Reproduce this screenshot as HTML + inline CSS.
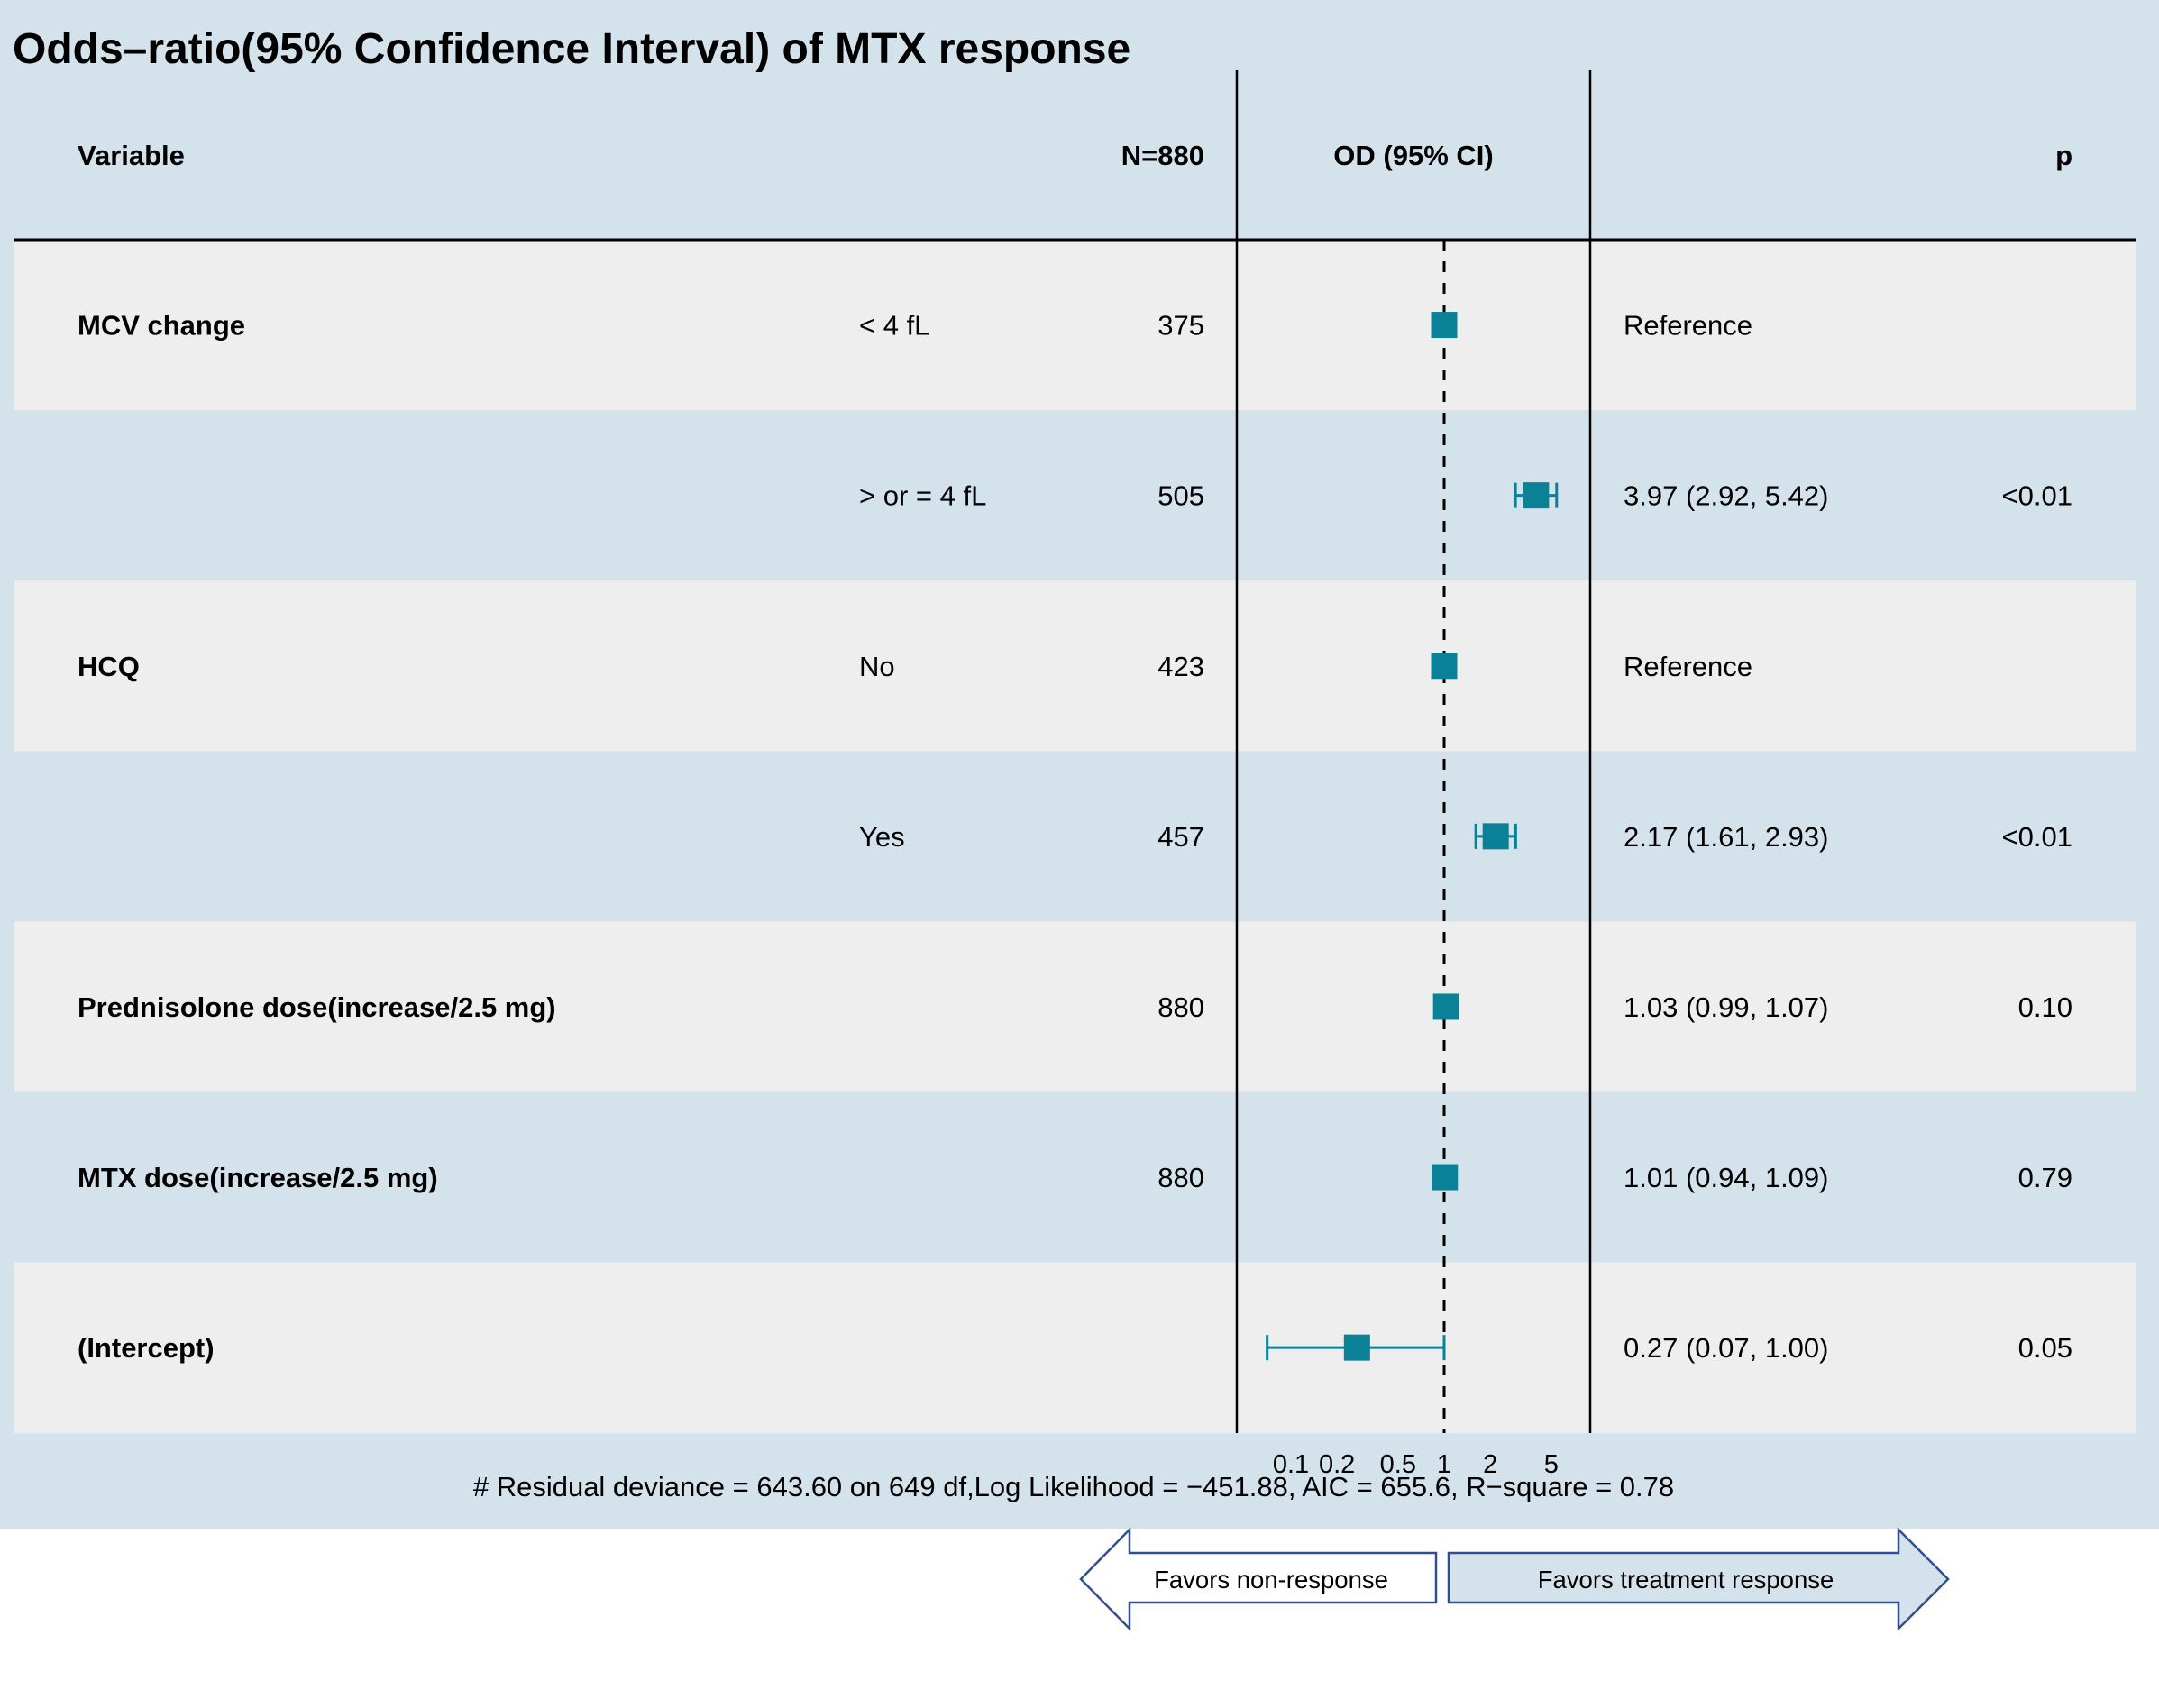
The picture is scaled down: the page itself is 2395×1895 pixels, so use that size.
<!DOCTYPE html>
<html><head><meta charset="utf-8"><style>
html,body{margin:0;padding:0;background:#fff;}
svg{display:block;font-family:"Liberation Sans",Arial,sans-serif;}
</style></head><body>
<svg id="chart" width="2395" height="1895" viewBox="0 0 2395 1895" xmlns="http://www.w3.org/2000/svg">
<rect x="0" y="0" width="2395" height="1696" fill="#d4e2eb"/>
<text x="14" y="70" font-size="48" font-weight="bold" fill="#000">Odds–ratio(95% Confidence Interval) of MTX response</text>
<text x="86" y="183" font-size="31" font-weight="bold">Variable</text>
<text x="1336" y="183" font-size="31" font-weight="bold" text-anchor="end">N=880</text>
<text x="1568" y="183" font-size="31" font-weight="bold" text-anchor="middle">OD (95% CI)</text>
<text x="2299" y="183" font-size="31" font-weight="bold" text-anchor="end">p</text>
<g id="rows"></g>
<g id="marks"></g>
<line x1="15" y1="266" x2="2370" y2="266" stroke="#000" stroke-width="3"/>
<line x1="1372" y1="78" x2="1372" y2="1590" stroke="#000" stroke-width="2.5"/>
<line x1="1764" y1="78" x2="1764" y2="1590" stroke="#000" stroke-width="2.5"/>
<g id="ticks"></g>
<text x="1191" y="1660" font-size="31" text-anchor="middle"># Residual deviance = 643.60  on 649 df,Log Likelihood = −451.88, AIC = 655.6, R−square = 0.78</text>
<g>
<polygon points="1199,1752 1253,1697 1253,1723 1593,1723 1593,1778 1253,1778 1253,1807" fill="#fff" stroke="#2f4f8f" stroke-width="2.5"/>
<text x="1410" y="1762" font-size="27.5" text-anchor="middle">Favors non-response</text>
</g>
<g>
<polygon points="2161,1752 2106,1697 2106,1723 1607,1723 1607,1778 2106,1778 2106,1807" fill="#d4e2eb" stroke="#2f4f8f" stroke-width="2.5"/>
<text x="1870" y="1762" font-size="27.5" text-anchor="middle">Favors treatment response</text>
</g>
</svg>
<script>
const variables = ["MCV change", "", "HCQ", "", "Prednisolone dose(increase/2.5 mg)", "MTX dose(increase/2.5 mg)", "(Intercept)"];
const levels = ["< 4 fL", "> or = 4 fL", "No", "Yes", "", "", ""];
const counts = ["375", "505", "423", "457", "880", "880", ""];
const estimates = [1, 3.97, 1, 2.17, 1.03, 1.01, 0.27];
const lowerCI = [null, 2.92, null, 1.61, 0.99, 0.94, 0.07];
const upperCI = [null, 5.42, null, 2.93, 1.07, 1.09, 1.00];
const ciLabels = ["Reference", "3.97 (2.92, 5.42)", "Reference", "2.17 (1.61, 2.93)", "1.03 (0.99, 1.07)", "1.01 (0.94, 1.09)", "0.27 (0.07, 1.00)"];
const pLabels = ["", "<0.01", "", "<0.01", "0.10", "0.79", "0.05"];
const tickValues = [0.1, 0.2, 0.5, 1, 2, 5];
const tickLabels = ["0.1", "0.2", "0.5", "1", "2", "5"];

const NS = "http://www.w3.org/2000/svg";
const top0 = 266, rowH = 189.1;
function xScale(v){ return 1602 + Math.log10(v) * 170; }
function yRow(i){ return top0 + rowH * i + rowH / 2; }
function mk(tag, attrs, parent){ const e = document.createElementNS(NS, tag); for (const k in attrs) e.setAttribute(k, attrs[k]); parent.appendChild(e); return e; }
const rowsG = document.getElementById('rows'), marksG = document.getElementById('marks'), ticksG = document.getElementById('ticks');
const teal = "#0a8197";

for (let i = 0; i < variables.length; i++) {
  const band = mk('rect', {x:15, y: top0 + rowH*i, width:2355, height: rowH + 0.5, fill: i % 2 === 0 ? '#eeeeee' : '#d4e2eb'}, rowsG);
  
  
  const y = yRow(i) + 11;
  const texts = [[variables[i], 86, 'start', 'bold', 'variable-label'], [levels[i], 953, 'start', 'normal', 'level-label'], [counts[i], 1336, 'end', 'normal', 'n-value'], [ciLabels[i], 1801, 'start', 'normal', 'ci-label'], [pLabels[i], 2299, 'end', 'normal', 'p-value']];
  for (const t of texts) {
    if (!t[0]) continue;
    const el = mk('text', {x: t[1], y: y, 'font-size': 31, 'text-anchor': t[2], 'font-weight': t[3]}, rowsG);
    el.textContent = t[0];
    
    
  }
}
const ref = mk('line', {x1: xScale(1), y1: 266, x2: xScale(1), y2: 1590, stroke:'#000', 'stroke-width':3, 'stroke-dasharray':'12,12'}, marksG);


for (let i = 0; i < estimates.length; i++) {
  const cy = yRow(i);
  if (lowerCI[i] !== null) {
    const x1 = xScale(lowerCI[i]), x2 = xScale(upperCI[i]);
    const ci = mk('g', {stroke: teal, 'stroke-width': 3}, marksG);
    
    
    mk('line', {x1:x1, y1:cy, x2:x2, y2:cy}, ci);
    mk('line', {x1:x1, y1:cy-14, x2:x1, y2:cy+14}, ci);
    mk('line', {x1:x2, y1:cy-14, x2:x2, y2:cy+14}, ci);
  }
  const sq = mk('rect', {x: xScale(estimates[i]) - 14.5, y: cy - 14.5, width: 29, height: 29, fill: teal}, marksG);
  
  
}
for (let i = 0; i < tickValues.length; i++) {
  const t = mk('text', {x: xScale(tickValues[i]), y: 1634, 'font-size': 29, 'text-anchor': 'middle'}, ticksG);
  t.textContent = tickLabels[i];
  
  
}
</script>
</body></html>
